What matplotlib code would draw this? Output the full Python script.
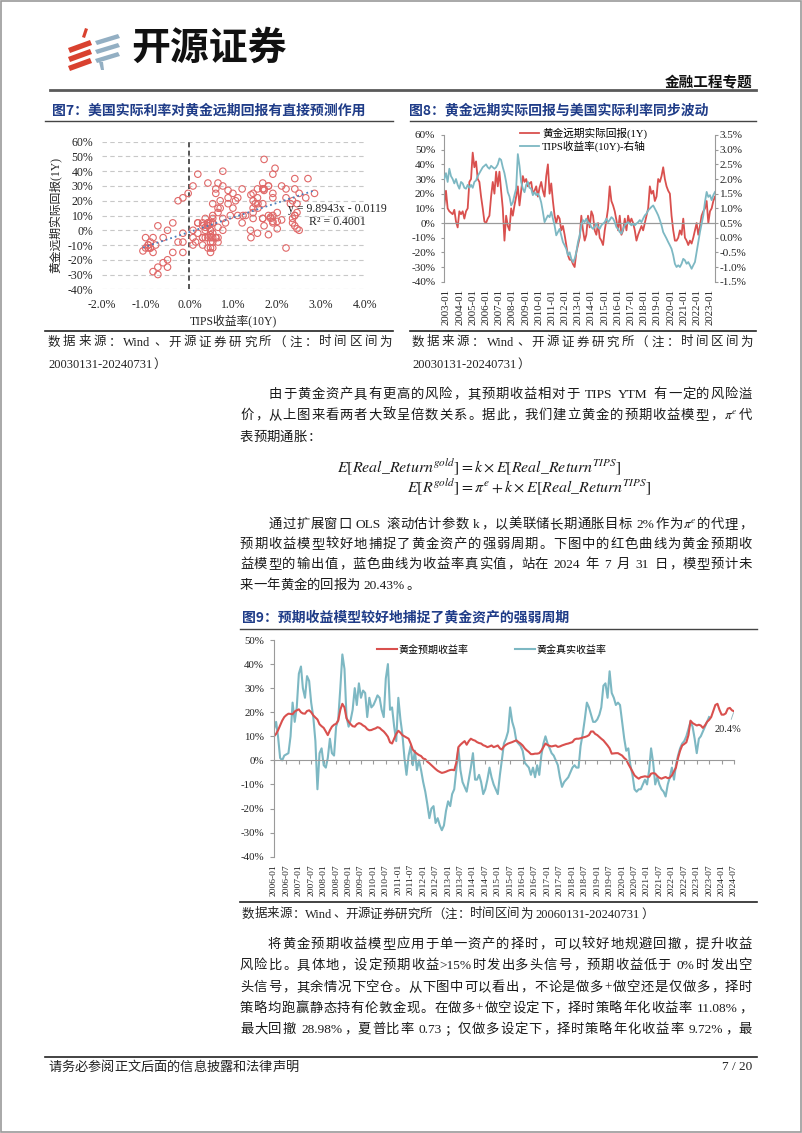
import matplotlib
matplotlib.use('Agg')
import matplotlib.pyplot as plt
from matplotlib.patches import Polygon, Rectangle
import numpy as np
import pandas as pd

plt.rcParams['font.family'] = ['Liberation Serif', 'Noto Sans CJK SC']
plt.rcParams['mathtext.fontset'] = 'stix'
plt.rcParams['axes.unicode_minus'] = False

CJK = ['Noto Sans CJK SC', 'DejaVu Sans']
SERIF = ['Liberation Serif', 'Noto Sans CJK SC']
RED = '#D9504E'
TEAL = '#7DB8C3'
NAVY = '#1F3C88'

# ---- data: fig8 (also used for the fig7 scatter), % units, 2003-01 .. 2023-05
gold_fwd = [12, 22, 10, 8, 7, 6, 9, 1, -3, 8, 6, 8, 3, 8, 10, 28, 30, 48, 38, 42,
            30, 28, 18, 10, 1, 0, 3, 5, 18, 28, 20, 35, 25, 35, 22, 10, -12, 5, -2, -5,
            10, 5, 12, 18, 25, 12, 22, 32, 28, 30, 25, 27, 28, 20, 22, 25, 18, 24, 28, 22,
            18, 32, 40, 20, 27, 15, 5, 0, 5, 3, -5, -2, -8, -15, -22, -25, -25, -28, -30, -20,
            -15, -10, 5, -5, -12, -8, 5, -3, 8, 5, -5, -8, 0, -10, -12, -15, -5, 2, 10, 25,
            15, 12, 8, 2, -5, 5, -8, -5, 3, -5, 5, 0, 3, 0, -5, -12, -8, -5, -2, -5,
            0, 5, 10, 25, 20, 22, 15, 18, 30, 28, 32, 38, 30, 25, 22, 20, 5, -5, -12, -12,
            -10, -5, -8, 3, -10, -12, -15, -12, -14, -10, -5, 0, -8, -2, 5, 8, 10, 15, 0, 8,
            10, 15, 18]
tips_10y = [2.0, 2.2, 1.9, 2.35, 2.1, 2.0, 1.85, 2.0, 1.8, 1.67,
            1.9, 1.85, 1.7, 1.67, 1.8, 1.7, 1.8, 1.7, 1.9, 1.95,
            2.1, 2.2, 2.3, 2.4, 2.45, 2.5, 2.4, 2.35, 2.45, 2.4,
            2.35, 2.4, 2.5, 2.7, 2.65, 2.4, 2.2, 1.9, 1.55, 1.4,
            1.1, 1.2, 1.45, 1.67, 2.85, 2.45, 1.9, 1.67, 1.55, 1.8,
            1.9, 1.7, 1.67, 1.45, 1.55, 1.45, 1.5, 1.4, 1.2, 0.88,
            0.53, 0.65, 0.76, 0.7, 0.88, 0.65, 0.42, 0.08, 0.19, 0.3,
            0.08, -0.15, -0.26, -0.38, -0.6, -0.5, -0.72, -0.83, -0.72, -0.5,
            -0.15, 0.08, 0.42, 0.6, 0.53, 0.65, 0.53, 0.48, 0.36, 0.3,
            0.36, 0.48, 0.36, 0.3, 0.42, 0.48, 0.53, 0.65, 0.53, 0.6,
            0.7, 0.65, 0.53, 0.36, 0.3, 0.19, 0.14, 0.3, 0.42, 0.48,
            0.53, 0.48, 0.42, 0.48, 0.42, 0.48, 0.53, 0.6, 0.53, 0.65,
            0.76, 0.82, 0.93, 0.99, 1.05, 1.1, 0.99, 0.88, 0.76, 0.6,
            0.42, 0.19, 0.08, -0.03, -0.15, -0.26, -0.38, -0.6, -0.89, -1.0,
            -0.94, -1.0, -0.89, -0.72, -0.77, -0.89, -0.83, -0.94, -1.06, -0.94,
            -0.83, -0.5, -0.15, 0.19, 0.48, 0.76, 1.22, 1.56, 1.39, 1.45,
            1.28, 1.45, 1.56]
fig8_start, fig8_end = '2002-11-01', '2023-05-15'
fig8_years = list(range(2003, 2024))

# regression shown on fig7
slope, intercept, r2 = 9.8943, -0.0119, 0.4001

# ---- data: fig9, monthly from 2006-01, % units
model_ret = [10, 11, 12.5, 14.5, 16.5, 18, 18.8, 19.4, 19.3, 19.2, 20.3, 20.8,
             21.2, 20, 19.5, 19.4, 20.5, 20.8, 20, 18.7, 17.8, 17, 15, 14.2,
             13.5, 12, 10.5, 12.5, 14, 14.8, 15.2, 16.5, 21, 23.5, 22, 17.5,
             16, 15, 14.2, 14, 15, 15.5, 15.2, 14.5, 14, 13, 12.5, 12.6,
             13, 13.3, 13.8, 13.5, 12.7, 12, 11, 9.8, 7.5, 7, 9, 11,
             12.3, 11.5, 10.5, 10, 9.5, 9, 7, 4.5, 3.5, 2.8, 2.2, 1.8,
             0.8, 0.5, -0.5, -1.2, -2, -2.8, -3.6, -4.3, -4.8, -5.2, -5, -4.7,
             -4.3, -4, -3.9, -4.1, -1, 5.5, 6.5, 7.3, 8, 6.5, 8, 9,
             8.5, 8.2, 7.6, 7.2, 7, 6.3, 6, 5.5, 5.8, 6.2, 5.5, 5.8,
             6.2, 5, 4.5, 5.8, 6.5, 7, 7.3, 7.6, 8, 8.3, 7.6, 7,
             6.2, 5, 4.2, 3.5, 2.6, 2.6, 2.8, 2.8, 3, 4, 5.5, 7,
             6.4, 6, 5.8, 6, 6.2, 5.6, 5.8, 6.2, 6.5, 6.8, 7, 7.3,
             7.6, 8.7, 9, 9, 9.2, 9.5, 9.7, 10, 10.5, 12, 12, 11,
             10.5, 9.7, 9, 8.3, 7.3, 6.2, 5, 2.8, 2.9, 3, 3, 2.5,
             2, 1, 0.3, -1.5, -3, -4.6, -6.2, -7, -7.6, -7, -6.8, -6.6,
             -6.8, -6.8, -5.5, -5.3, -5.5, -6.5, -7.2, -7.6, -7.2, -6.9, -7.4, -7.2,
             -6.2, -4.5, -3, 1, 4, 6.2, 6.8, 7.5, 10.5, 16.5, 15.5, 15,
             14.5, 14.8, 14.5, 13.5, 14.5, 16, 16.8, 18, 20.5, 23, 23.5, 21,
             19, 19, 19.5, 21.5, 21.8, 20.8, 20.4]
real_ret = [13, 16, 10, 1, 0, 2, 2.5, 3, 10, 24, 16, 22,
            36, 39, 30, 26, 35, 33, 24, 18, 8, -12, 3, 5,
            -2, -3, 1, 9, 3, 2, 14, 17, 30, 44, 38, 18,
            14, 17, 21, 30, 23, 32, 26, 29, 28, 18, 26, 22,
            23, 25, 27, 26, 21, 18, 34, 40, 21, 22, 14, 8,
            26, 17, 11, 1, -6, 2, 6, -2, 4, -4, 0, -4,
            -9, -13, -18, -24, -20, -19, -26, -24, -27, -29, -27, -21,
            -17, -19, -14, -12, -4, 5, -4, -9, -11, -13, -8, -3,
            3, -8, -8, -6, -9, -14, -12, -8, -3, -7, -10, -12,
            -14, -6, 0, 7, 9, 12, 22, 16, 13, 8, 7, 6,
            4, -1, -2, -3, -6, -3, -7, -2, -6, 2, 7, 10,
            7, 5, 3, 2, 0, -2, -7, -11, -9, -8, -7, -5,
            -3, -2, -3, -3, 6, 11, 17, 24, 22, 19, 16, 16,
            17, 19, 22, 31, 32, 26, 37, 28, 26, 23, 24, 23,
            16, 9, 4, 5, -2, -6, -12, -13, -12, -12, -10, -8,
            -10, -4, 5, -1, -10, -7, -10, -12, -13, -15, -10, -7,
            -3, -8, -2, 2, 5, 7, 8, 10, 13, 16, 14, 9,
            3, 9, 10, 12, 14, 16, 18]
fig9_start, fig9_end = '2006-01-01', '2024-07-01'

# ---- page text
para1 = ['由于黄金资产具有更高的风险，其预期收益相对于 TIPS YTM 有一定的风险溢',
         '价，从上图来看两者大致呈倍数关系。据此，我们建立黄金的预期收益模型，$\\pi^e$代',
         '表预期通胀：']
formula1 = r'$E[Real\_Return^{gold}] = k \times E[Real\_Return^{TIPS}]$'
formula2 = r'$E[R^{gold}] = \pi^e + k \times E[Real\_Return^{TIPS}]$'
para2 = ['通过扩展窗口 OLS 滚动估计参数 k，以美联储长期通胀目标 2%作为$\\pi^e$的代理，',
         '预期收益模型较好地捕捉了黄金资产的强弱周期。下图中的红色曲线为黄金预期收',
         '益模型的输出值，蓝色曲线为收益率真实值，站在 2024 年 7 月 31 日，模型预计未',
         '来一年黄金的回报为 20.43%。']
para3 = ['将黄金预期收益模型应用于单一资产的择时，可以较好地规避回撤，提升收益',
         '风险比。具体地，设定预期收益>15%时发出多头信号，预期收益低于 0%时发出空',
         '头信号，其余情况下空仓。从下图中可以看出，不论是做多+做空还是仅做多，择时',
         '策略均跑赢静态持有伦敦金现。在做多+做空设定下，择时策略年化收益率 11.08%，',
         '最大回撤 28.98%，夏普比率 0.73；仅做多设定下，择时策略年化收益率 9.72%，最']

W, H = 802, 1133
fig = plt.figure(figsize=(W / 100, H / 100), dpi=100)
renderer = fig.canvas.get_renderer()


def rect(x0, y0, x1, y1):
    return [x0 / W, 1 - y1 / H, (x1 - x0) / W, (y1 - y0) / H]


ov = fig.add_axes([0, 0, 1, 1])
ov.set_xlim(0, W)
ov.set_ylim(H, 0)
ov.axis('off')


def split_tokens(s):
    out, buf, i = [], '', 0
    while i < len(s):
        c = s[i]
        if c == '$':
            j = s.index('$', i + 1)
            if buf:
                out.append(buf)
                buf = ''
            out.append(s[i:j + 1])
            i = j + 1
            continue
        if c == ' ' or ord(c) > 127:
            if buf:
                out.append(buf)
                buf = ''
            out.append(c)
        else:
            buf += c
        i += 1
    if buf:
        out.append(buf)
    return out


def put_line(s, x0, yc, x1=None, size=9.6, color='#1a1a1a'):
    em = size * 100 / 72
    base = yc + 0.36 * em
    cells = []
    for tok in split_tokens(s):
        if tok == ' ':
            cells.append((None, 0.28 * em, 'sp'))
        elif ord(tok[0]) > 127:
            cells.append((tok, em, 'cjk'))
        else:
            t = ov.text(0, base, tok, fontsize=size, color=color, family=SERIF,
                        va='baseline', ha='left')
            cells.append((t, t.get_window_extent(renderer).width + 0.6, 'lat'))
    total = sum(c[1] for c in cells)
    gap = 0.0
    if x1 is not None and len(cells) > 1:
        gap = (x1 - x0 - total) / (len(cells) - 1)
    x = x0
    for obj, w, kind in cells:
        if kind == 'cjk':
            kw = dict(fontsize=size, color=color, family=CJK, va='baseline')
            if obj in '，。：；、）':
                ov.text(x + 0.04 * em, base, obj, ha='left', **kw)
            elif obj == '（':
                ov.text(x + w - 0.04 * em, base, obj, ha='right', **kw)
            else:
                ov.text(x + w / 2, base, obj, ha='center', **kw)
        elif kind == 'lat':
            obj.set_x(x)
        x += w + gap


# ---- page frame, header, logo
ov.add_patch(Rectangle((0.6, 0.6), W - 1.2, H - 1.2, fill=False, ec='#9a9a9a', lw=1.2))
for k in range(3):
    yy = 46 + k * 9
    ov.add_patch(Polygon([(68, yy + 2), (90, yy - 6), (92, yy - 1), (70, yy + 7)],
                         closed=True, fc='#D9412F', ec='none'))
    yb = 39 + k * 9
    ov.add_patch(Polygon([(95, yb + 2), (118, yb - 5), (120, yb - 1), (97, yb + 6)],
                         closed=True, fc='#93AFC3', ec='none'))
ov.add_patch(Polygon([(82, 37), (85, 28), (88, 29), (85, 38)], closed=True, fc='#D9412F', ec='none'))
ov.add_patch(Polygon([(99, 62), (103, 62), (104, 70), (101, 70)], closed=True, fc='#93AFC3', ec='none'))
ov.text(131, 48, '开源证券', fontsize=28, fontweight='bold', family=CJK, color='#111111',
        ha='left', va='center')
ov.text(752, 82, '金融工程专题', fontsize=10.5, fontweight='bold', family=CJK,
        ha='right', va='center', color='#111111')
ov.plot([50, 756], [89.5, 89.5], color='#5a5a5a', lw=2.0)

# ---- figure titles and rules
ov.text(52, 110, '图7：美国实际利率对黄金远期回报有直接预测作用', fontsize=10, fontweight='bold',
        family=CJK, color=NAVY, ha='left', va='center')
ov.text(409, 110, '图8：黄金远期实际回报与美国实际利率同步波动', fontsize=10, fontweight='bold',
        family=CJK, color=NAVY, ha='left', va='center')
ov.plot([45, 393], [120.5, 120.5], color='#444444', lw=1.0)
ov.plot([410, 756], [120.5, 120.5], color='#444444', lw=1.0)
ov.plot([45, 393], [330.5, 330.5], color='#222222', lw=1.2)
ov.plot([410, 756], [330.5, 330.5], color='#222222', lw=1.2)

put_line('数据来源：Wind、开源证券研究所（注：时间区间为', 48, 341, 392, size=9, color='#222222')
put_line('20030131-20240731）', 48, 363, size=9, color='#222222')
put_line('数据来源：Wind、开源证券研究所（注：时间区间为', 412, 341, 753, size=9, color='#222222')
put_line('20030131-20240731）', 412, 363, size=9, color='#222222')

# ---- body text
for i, (line, yc) in enumerate(zip(para1, [393, 414, 436])):
    x0 = 269 if i == 0 else 240
    put_line(line, x0, yc, 752 if i < len(para1) - 1 else None)

probe = ov.text(0, 0, formula1, fontsize=10)
fsize = 10 * 285 / probe.get_window_extent(renderer).width
probe.remove()
ov.text(337, 472, formula1, fontsize=fsize, ha='left', va='baseline', color='#1a1a1a')
ov.text(407, 492, formula2, fontsize=fsize, ha='left', va='baseline', color='#1a1a1a')

for i, (line, yc) in enumerate(zip(para2, [523, 543, 563, 584])):
    x0 = 269 if i == 0 else 240
    put_line(line, x0, yc, 752 if i < len(para2) - 1 else None)

for i, (line, yc) in enumerate(zip(para3, [943, 964, 986, 1007, 1028])):
    x0 = 268 if i == 0 else 240
    put_line(line, x0, yc, 752)

ov.text(242, 617, '图9：预期收益模型较好地捕捉了黄金资产的强弱周期', fontsize=10, fontweight='bold',
        family=CJK, color=NAVY, ha='left', va='center')
ov.plot([240, 757], [628.5, 628.5], color='#444444', lw=1.0)
ov.plot([240, 757], [902, 902], color='#222222', lw=1.2)
put_line('数据来源：Wind、开源证券研究所（注：时间区间为 20060131-20240731）', 242, 913,
         size=9, color='#222222')

ov.plot([45, 757], [1056.5, 1056.5], color='#222222', lw=1.2)
put_line('请务必参阅正文后面的信息披露和法律声明', 48, 1066, size=9.5, color='#222222')
ov.text(752, 1070, '7 / 20', fontsize=9.5, ha='right', va='baseline', color='#222222')

# ---- fig7 scatter
ax7 = fig.add_axes(rect(101.7, 141.7, 365, 289.3))
ax7.scatter(tips_10y, gold_fwd, s=22, facecolors='none', edgecolors='#E06868', linewidths=0.8,
            zorder=3)
xs = np.array([min(tips_10y), max(tips_10y)])
ax7.plot(xs, slope * xs + intercept * 100, color='#4A7EBB', ls=':', lw=1.3, zorder=4)
ax7.axvline(0, color='#3a3a3a', ls=(0, (3, 2)), lw=1.2, zorder=2)
ax7.set_xlim(-2, 4)
ax7.set_ylim(-40, 60)
xt = np.arange(-2, 4.01, 1)
yt = np.arange(-40, 61, 10)
ax7.set_xticks(xt, [f'{v:.1f}%' for v in xt])
ax7.set_yticks(yt, [f'{v:.0f}%' for v in yt])
ax7.grid(axis='y', color='#c8c8c8', ls=(0, (4, 3)), lw=0.8)
ax7.set_axisbelow(True)
for sp in ax7.spines.values():
    sp.set_visible(False)
ax7.tick_params(length=0, labelsize=8.5, colors='#222222')
ax7.tick_params(axis='y', pad=6)
ax7.tick_params(axis='x', pad=7)
ax7.patch.set_alpha(0)
ax7.text(3.38, 10, f'y = {slope}x - {abs(intercept)}\nR² = {r2:.4f}', fontsize=8.5,
         ha='center', va='center', linespacing=1.15, color='#222222', zorder=5)
ov.text(233, 321, 'TIPS收益率(10Y)', fontsize=8.5, ha='center', va='center', color='#222222')
ov.text(55, 215, '黄金远期实际回报(1Y)', fontsize=8.5, rotation=90, ha='center', va='center',
        color='#222222')

# ---- fig8 dual axis lines
dates8 = pd.date_range(fig8_start, fig8_end, periods=len(gold_fwd))
dates8b = pd.date_range(fig8_start, fig8_end, periods=len(tips_10y))
ax8 = fig.add_axes(rect(444.3, 135, 715, 281.7))
l1, = ax8.plot(dates8, gold_fwd, color=RED, lw=1.3, label='黄金远期实际回报(1Y)')
ax8.axhline(0, color='#9a9a9a', lw=0.9)
ax8.set_ylim(-40, 60)
ax8.set_yticks(yt, [f'{v:.0f}%' for v in yt])
ax8.set_xlim(pd.Timestamp(fig8_start), pd.Timestamp(fig8_end))
xt8 = pd.to_datetime([f'{y}-01-01' for y in fig8_years])
ax8.set_xticks(xt8, [f'{y}-01' for y in fig8_years])
ax8r = ax8.twinx()
l2, = ax8r.plot(dates8b, tips_10y, color=TEAL, lw=1.3, label='TIPS收益率(10Y)-右轴')
ax8r.set_ylim(-1.5, 3.5)
yr = np.arange(-1.5, 3.51, 0.5)
ax8r.set_yticks(yr, [f'{v:.1f}%' for v in yr])
for a in (ax8, ax8r):
    for s in ('top', 'bottom'):
        a.spines[s].set_visible(False)
    a.spines['left'].set_color('#9a9a9a')
    a.spines['right'].set_color('#9a9a9a')
ax8r.spines['left'].set_visible(False)
ax8.spines['right'].set_visible(False)
ax8.tick_params(axis='y', length=2.5, color='#9a9a9a', labelsize=8, pad=4, labelcolor='#222222')
ax8r.tick_params(axis='y', length=2.5, color='#9a9a9a', labelsize=8, pad=1, labelcolor='#222222')
ax8.tick_params(axis='x', length=0, labelsize=7.8, pad=5, labelcolor='#222222', labelrotation=90)
fig.legend(handles=[l1, l2], loc='upper left', bbox_to_anchor=(520 / W, 1 - 128 / H),
           bbox_transform=fig.transFigure, frameon=False, fontsize=7.7, handlelength=1.8,
           handletextpad=0.25, labelspacing=0.1, borderpad=0, borderaxespad=0)

# ---- fig9 model vs realised
dates9r = pd.date_range(fig9_start, periods=len(model_ret), freq='MS')
dates9t = pd.date_range(fig9_start, periods=len(real_ret), freq='MS')
ax9 = fig.add_axes(rect(274, 640, 734, 856.7))
ax9.spines['bottom'].set_position(('data', 0))
lt, = ax9.plot(dates9t, real_ret, color=TEAL, lw=1.5, label='黄金真实收益率')
lr, = ax9.plot(dates9r, model_ret, color=RED, lw=1.5, label='黄金预期收益率')
ax9.set_xlim(pd.Timestamp(fig9_start), pd.Timestamp(fig9_end))
ax9.set_ylim(-40, 50)
yt9 = np.arange(-40, 51, 10)
ax9.set_yticks(yt9, [f'{v:.0f}%' for v in yt9])
xt9 = pd.date_range(fig9_start, fig9_end, freq='6MS')
ax9.set_xticks(xt9, [t.strftime('%Y-%m') for t in xt9])
ax9.spines['top'].set_visible(False)
ax9.spines['right'].set_visible(False)
ax9.spines['left'].set_color('#9a9a9a')
ax9.spines['bottom'].set_color('#9a9a9a')
zero_px = 640 + 216.7 * 50 / 90
ax9.tick_params(axis='x', length=3, color='#9a9a9a', labelsize=6.8, labelcolor='#222222',
                labelrotation=90, pad=(863 - zero_px - 3) * 0.72)
ax9.tick_params(axis='y', length=3, color='#9a9a9a', labelsize=7.8, labelcolor='#222222', pad=4)
ax9.patch.set_alpha(0)
ax9.annotate(f'{model_ret[-1]:.1f}%', xy=(dates9r[-1], model_ret[-1]), xytext=(-4.5, -13),
             textcoords='offset points', ha='center', va='center', fontsize=7.4, color='#222222',
             arrowprops=dict(arrowstyle='-', color='#8fb3bb', lw=0.6, shrinkA=2, shrinkB=1))
fig.legend(handles=[lr, lt], loc='upper left', bbox_to_anchor=(377 / W, 1 - 645 / H),
           bbox_transform=fig.transFigure, frameon=False, fontsize=7.2, ncol=2,
           handlelength=2.0, handletextpad=0.15, columnspacing=4.6, borderpad=0, borderaxespad=0)

fig.savefig('out.png', dpi=100)
